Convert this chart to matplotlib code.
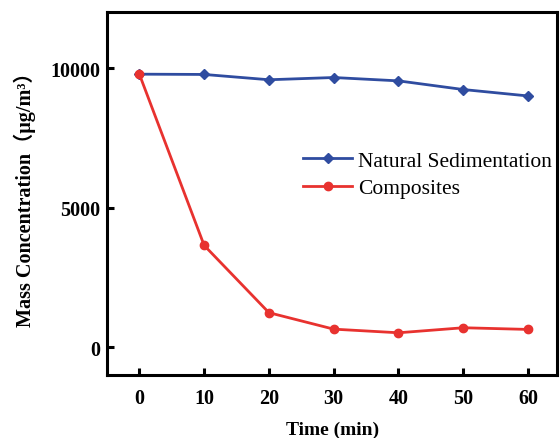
import numpy as np
from matplotlib import pyplot as plt

# 字体：Times 风格的衬线字体，全角括号用 CJK 字体补上
plt.rcParams['font.family'] = ['Liberation Serif', 'Noto Sans CJK SC']
plt.rcParams['axes.unicode_minus'] = False

# 沉降时间 (min)
time_min = [0, 10, 20, 30, 40, 50, 60]
# 自然沉降
natural = [9780, 9770, 9580, 9660, 9540, 9230, 9000]
# 复合材料
composites = [9780, 3650, 1240, 650, 520, 700, 640]

blue = '#2f4ca0'
red = '#e8322f'

fig = plt.figure(figsize=(5.6, 4.39), dpi=100)
ax = fig.add_axes([0.191, 0.143, 0.804, 0.827])

ax.plot(time_min, natural, '-D', color=blue, lw=2, ms=5.5, label='Natural Sedimentation')
ax.plot(time_min, composites, '-o', color=red, lw=2, ms=6, label='Composites')

ax.set_xlim(-5, 64.5)
ax.set_ylim(-1000, 12000)
ax.set_xticks([0, 10, 20, 30, 40, 50, 60])
ax.set_yticks([0, 5000, 10000])

for s in ax.spines.values():
    s.set_linewidth(2.2)
ax.tick_params(direction='in', length=5, width=2.2, labelsize=14.5)
ax.tick_params(axis='x', pad=9)
ax.tick_params(axis='y', pad=5)
for lab in ax.get_xticklabels() + ax.get_yticklabels():
    lab.set_fontweight('bold')

ax.set_xlabel('Time (min)', fontsize=14, fontweight='bold', labelpad=9.5)
ax.set_ylabel('Mass Concentration（μg/m³）', fontsize=14.5, fontweight='bold', labelpad=10)

ax.legend(loc='upper left', bbox_to_anchor=(0.416, 0.642), frameon=False,
          fontsize=15.5, handlelength=2.3, handletextpad=0.25, labelspacing=0.35,
          borderaxespad=0)

fig.savefig('out.png', dpi=100)
